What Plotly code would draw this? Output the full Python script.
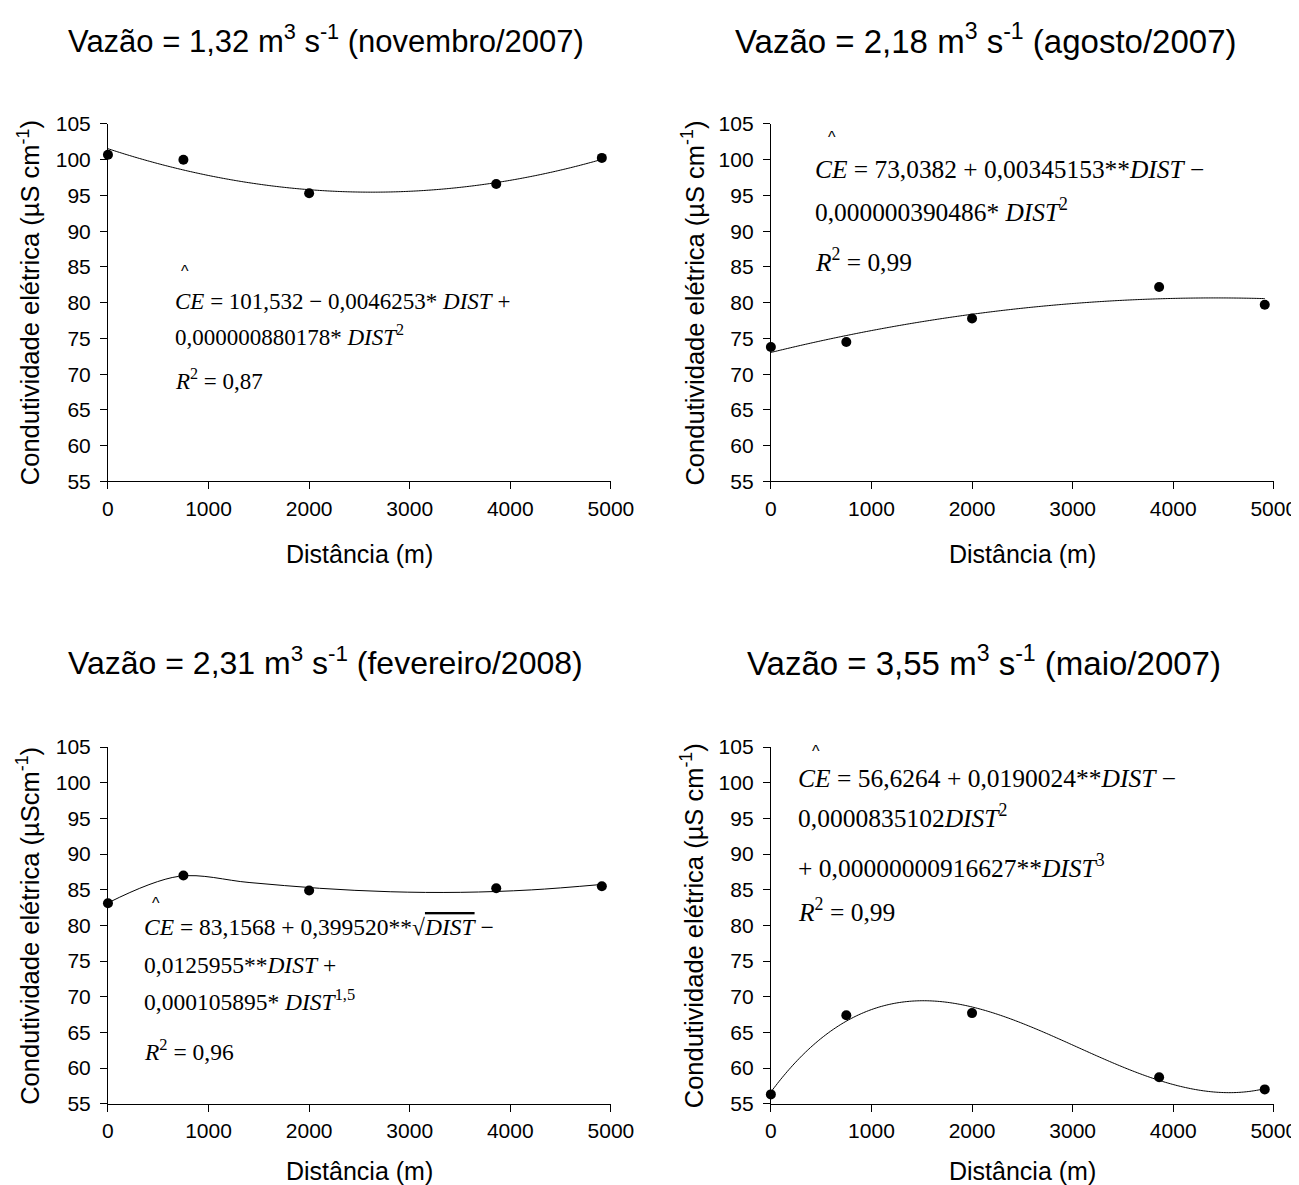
import plotly.graph_objects as go
import numpy as np

# ---- data ----
dist = [0, 750, 2000, 3860, 4910]
ce_nov2007 = [100.7, 100.0, 95.3, 96.6, 100.25]
ce_ago2007 = [73.8, 74.5, 77.8, 82.2, 79.7]
ce_fev2008 = [83.1, 87.0, 84.9, 85.2, 85.5]
ce_mai2007 = [56.3, 67.4, 67.7, 58.7, 57.0]

titles = [
    "Vazão = 1,32 m<sup>3</sup> s<sup>-1</sup> (novembro/2007)",
    "Vazão = 2,18 m<sup>3</sup> s<sup>-1</sup> (agosto/2007)",
    "Vazão = 2,31 m<sup>3</sup> s<sup>-1</sup> (fevereiro/2008)",
    "Vazão = 3,55 m<sup>3</sup> s<sup>-1</sup> (maio/2007)",
]
ytitles = [
    "Condutividade elétrica (µS cm<sup>-1</sup>)",
    "Condutividade elétrica (µS cm<sup>-1</sup>)",
    "Condutividade elétrica (µScm<sup>-1</sup>)",
    "Condutividade elétrica (µS cm<sup>-1</sup>)",
]
xtitle = "Distância (m)"
xticks = [0, 1000, 2000, 3000, 4000, 5000]
yticks = [55, 60, 65, 70, 75, 80, 85, 90, 95, 100, 105]

# regression coefficients printed on the chart
coef_nov = [101.532, -0.0046253, 0.000000880178]          # 1, x, x^2
coef_ago = [73.0382, 0.00345153, -0.000000390486]         # 1, x, x^2
coef_fev = [83.1568, 0.399520, -0.0125955, 0.000105895]   # 1, x^0.5, x, x^1.5
coef_mai = [56.6264, 0.0190024, -0.00000835102, 0.000000000916627]  # 1, x, x^2, x^3

eq_lines = [
    ["<i>CE</i> = 101,532 − 0,0046253* <i>DIST</i> +",
     "0,000000880178* <i>DIST</i><sup>2</sup>",
     "<i>R</i><sup>2</sup> = 0,87"],
    ["<i>CE</i> = 73,0382 + 0,00345153**<i>DIST</i> −",
     "0,000000390486* <i>DIST</i><sup>2</sup>",
     "<i>R</i><sup>2</sup> = 0,99"],
    ["<i>CE</i> = 83,1568 + 0,399520**√<span style='text-decoration:overline'><i>DIST</i></span> −",
     "0,0125955**<i>DIST</i> +",
     "0,000105895* <i>DIST</i><sup>1,5</sup>",
     "<i>R</i><sup>2</sup> = 0,96"],
    ["<i>CE</i> = 56,6264 + 0,0190024**<i>DIST</i> −",
     "0,0000835102<i>DIST</i><sup>2</sup>",
     "+ 0,00000000916627**<i>DIST</i><sup>3</sup>",
     "<i>R</i><sup>2</sup> = 0,99"],
]

# ---- layout helpers: map target picture pixels to paper coordinates ----
W, H = 1310, 1195
SX, BX, SY, BY, OFF = 0.978, 6.2, 0.982, 10.1, 8


def px(t):
    return ((t - BX) / SX - OFF) / W


def py(t):
    return 1 - ((t - BY) / SY - OFF) / H


xdom = [[px(108), px(611)], [px(771), px(1274)], [px(108), px(611)], [px(771), px(1274)]]
ydom = [[py(480), py(122)], [py(480), py(122)], [py(1103), py(746)], [py(1103), py(746)]]

xx = np.linspace(0, 4910, 300)
xx_fev = np.linspace(0, 4910, 8)
fit_x = [xx, xx, xx_fev, xx]
fits = [
    coef_nov[0] + coef_nov[1] * xx + coef_nov[2] * xx ** 2,
    coef_ago[0] + coef_ago[1] * xx + coef_ago[2] * xx ** 2,
    coef_fev[0] + coef_fev[1] * np.sqrt(xx_fev) + coef_fev[2] * xx_fev + coef_fev[3] * xx_fev ** 1.5,
    coef_mai[0] + coef_mai[1] * xx + coef_mai[2] * xx ** 2 + coef_mai[3] * xx ** 3,
]
obs = [ce_nov2007, ce_ago2007, ce_fev2008, ce_mai2007]

fig = go.Figure()
sans = "Liberation Sans, Arial, sans-serif"
serif = "Liberation Serif, Times New Roman, serif"

for i in range(4):
    sfx = "" if i == 0 else str(i + 1)
    fig.add_trace(go.Scatter(x=fit_x[i], y=fits[i], mode="lines",
                             line=dict(color="black", width=1, shape="spline"),
                             xaxis="x" + sfx, yaxis="y" + sfx, showlegend=False))
    fig.add_trace(go.Scatter(x=dist, y=obs[i], mode="markers",
                             marker=dict(color="black", size=10),
                             cliponaxis=False,
                             xaxis="x" + sfx, yaxis="y" + sfx, showlegend=False))
    axcommon = dict(showline=True, linecolor="black", linewidth=1, ticks="outside",
                    ticklen=7, tickcolor="black", showgrid=False, zeroline=False,
                    tickfont=dict(family=sans, size=21, color="black"))
    fig.update_layout(**{
        "xaxis" + sfx: dict(domain=xdom[i], range=[0, 5000], tickvals=xticks,
                            anchor="y" + sfx, ticklabelstandoff=1, **axcommon),
        "yaxis" + sfx: dict(domain=ydom[i], range=[55, 105], tickvals=yticks,
                            anchor="x" + sfx, ticklabelstandoff=5, **axcommon),
    })

annotations = []
title_pos = [(66, 36.5), (733, 36.5), (66, 659.5), (745, 659.5)]
title_size = [31, 33, 32, 33]
xtitle_y = [553, 553, 1170, 1170]
ytitle_x = [28.5, 693, 28.5, 693]
for i in range(4):
    annotations.append(dict(text=titles[i], x=px(title_pos[i][0]), y=py(title_pos[i][1]),
                            xref="paper", yref="paper", showarrow=False,
                            xanchor="left", yanchor="middle",
                            font=dict(family=sans, size=title_size[i], color="black")))
    xc = (xdom[i][0] + xdom[i][1]) / 2
    annotations.append(dict(text=xtitle, x=xc, y=py(xtitle_y[i]),
                            xref="paper", yref="paper", showarrow=False,
                            xanchor="center", yanchor="middle",
                            font=dict(family=sans, size=25, color="black")))
    annotations.append(dict(text=ytitles[i], x=px(ytitle_x[i]), y=(ydom[i][0] + ydom[i][1]) / 2,
                            xref="paper", yref="paper", showarrow=False, textangle=-90,
                            xanchor="center", yanchor="middle",
                            font=dict(family=sans, size=25.5, color="black")))

# equation placement (data coordinates of each panel)
eq_x = [645, 420, 336, 247]
eq_size = [23, 25.4, 23.5, 25.5]
hat_pos = [(763, 84.3), (606, 103.1), (477, 83.0), (450, 104.4)]
eq_y = [[80.2, 75.4, 69.2], [98.7, 92.9, 85.9], [79.8, 74.4, 69.5, 62.5],
        [100.6, 95.2, 88.2, 82.1]]
for i in range(4):
    sfx = "" if i == 0 else str(i + 1)
    annotations.append(dict(text="^", x=hat_pos[i][0], y=hat_pos[i][1],
                            xref="x" + sfx, yref="y" + sfx, showarrow=False,
                            xanchor="center", yanchor="middle",
                            font=dict(family=sans, size=16, color="black")))
    for j, line in enumerate(eq_lines[i]):
        annotations.append(dict(text=line, x=eq_x[i], y=eq_y[i][j],
                                xref="x" + sfx, yref="y" + sfx, showarrow=False,
                                xanchor="left", yanchor="middle",
                                font=dict(family=serif, size=eq_size[i], color="black")))

fig.update_layout(width=W, height=H, margin=dict(l=0, r=0, t=0, b=0),
                  plot_bgcolor="white", paper_bgcolor="white",
                  annotations=annotations, showlegend=False)

fig.write_html("out.html")
